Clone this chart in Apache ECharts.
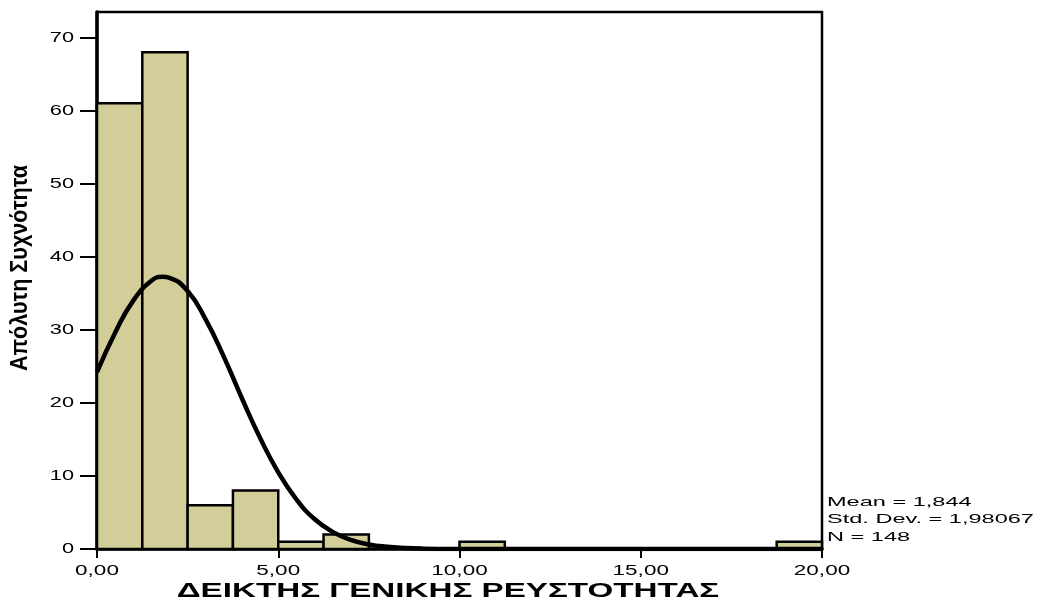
<!DOCTYPE html>
<html>
<head>
<meta charset="utf-8">
<script src="https://cdn.jsdelivr.net/npm/echarts@6/dist/echarts.min.js"></script>
<style>
  html, body { margin: 0; padding: 0; background: #fff; }
  #main { width: 1041px; height: 603px; }
</style>
</head>
<body>
<div id="main"></div>
<script>
// histogram bins (width 1,25)
const binWidth = 1.25;
const binStarts = [0, 1.25, 2.5, 3.75, 5, 6.25, 7.5, 8.75, 10, 11.25, 12.5, 13.75, 15, 16.25, 17.5, 18.75];
const counts = [61, 68, 6, 8, 1, 2, 0, 0, 1, 0, 0, 0, 0, 0, 0, 1];

// normal curve
const curveX = [0, 0.5, 1, 1.5, 1.8, 2, 2.5, 3, 3.5, 4, 4.5, 5, 5.5, 6, 6.5, 7, 7.5, 8, 8.5, 9, 10, 12, 15, 20];
const curveY = [24.2, 29.6, 34.0, 36.7, 37.25, 37.1, 35.3, 31.4, 26.3, 20.6, 15.2, 10.5, 6.8, 4.1, 2.35, 1.26, 0.63, 0.30, 0.13, 0.05, 0.01, 0, 0, 0];

// ticks
const xTicks = [0, 5, 10, 15, 20];
const yTicks = [0, 10, 20, 30, 40, 50, 60, 70];

const stats = ['Mean = 1,844', 'Std. Dev. = 1,98067', 'N = 148'];
const xTitle = 'ΔΕΙΚΤΗΣ ΓΕΝΙΚΗΣ ΡΕΥΣΤΟΤΗΤΑΣ';
const yTitle = 'Απόλυτη Συχνότητα';

const chart = echarts.init(document.getElementById('main'));

chart.setOption({
    animation: false,
    grid: {
        left: 97, right: 219, top: 12, bottom: 54,
        show: true, borderColor: '#000', borderWidth: 2.5
    },
    xAxis: {
        type: 'value', min: 0, max: 20, interval: 5,
        axisLine: { lineStyle: { color: '#000', width: 3.5 } },
        axisTick: { length: 9, lineStyle: { color: '#000', width: 2 } },
        axisLabel: { show: false },
        splitLine: { show: false }
    },
    yAxis: {
        type: 'value', min: 0, max: 73.5,
        axisLine: { show: true, lineStyle: { color: '#000', width: 3.5 } },
        axisTick: { show: true, customValues: yTicks, length: 17, lineStyle: { color: '#000', width: 2 } },
        axisLabel: { show: false },
        splitLine: { show: false }
    },
    series: [
        {
            type: 'custom',
            data: binStarts.map((s, i) => [s, s + binWidth, counts[i]]),
            encode: { x: [0, 1], y: 2 },
            renderItem: function (params, api) {
                const h = api.value(2);
                if (!h) return null;
                const p0 = api.coord([api.value(0), h]);
                const p1 = api.coord([api.value(1), 0]);
                return {
                    type: 'rect',
                    shape: { x: p0[0], y: p0[1], width: p1[0] - p0[0], height: p1[1] - p0[1] },
                    style: { fill: '#d3ce99', stroke: '#000', lineWidth: 2.5 }
                };
            }
        },
        {
            type: 'line',
            data: curveX.map((x, i) => [x, curveY[i]]),
            smooth: 0.5,
            showSymbol: false,
            lineStyle: { color: '#000', width: 4.5 },
            z: 5
        }
    ]
});

// text as graphic elements (stretched like the original export)
const labelFont = '15px "Liberation Sans", Arial, sans-serif';
const graphics = [];
xTicks.forEach(v => {
    const p = chart.convertToPixel({ gridIndex: 0 }, [v, 0]);
    graphics.push({
        type: 'text', x: p[0], y: 571, scaleX: 1.5,
        style: { text: v.toFixed(2).replace('.', ','), font: labelFont, fill: '#000', align: 'center', verticalAlign: 'middle' }
    });
});
yTicks.forEach(v => {
    const p = chart.convertToPixel({ gridIndex: 0 }, [0, v]);
    graphics.push({
        type: 'text', x: 74, y: p[1], scaleX: 1.45,
        style: { text: String(v), font: labelFont, fill: '#000', align: 'right', verticalAlign: 'middle' }
    });
});
stats.forEach((s, i) => {
    graphics.push({
        type: 'text', x: 827, y: 502 + i * 17.5, scaleX: 1.81,
        style: { text: s, font: '13px "Liberation Sans", Arial, sans-serif', fill: '#000', align: 'left', verticalAlign: 'middle' }
    });
});
graphics.push({
    type: 'text', x: 448, y: 591, scaleX: 1.58,
    style: { text: xTitle, font: 'bold 21px "Liberation Sans", Arial, sans-serif', fill: '#000', align: 'center', verticalAlign: 'middle' }
});
graphics.push({
    type: 'text', x: 21, y: 268, rotation: Math.PI / 2, scaleX: 1.08, scaleY: 1.15,
    style: { text: yTitle, font: 'bold 20px "Liberation Sans", Arial, sans-serif', fill: '#000', align: 'center', verticalAlign: 'middle' }
});
chart.setOption({ graphic: graphics });

window.addEventListener('resize', function () { chart.resize(); });
</script>
</body>
</html>
